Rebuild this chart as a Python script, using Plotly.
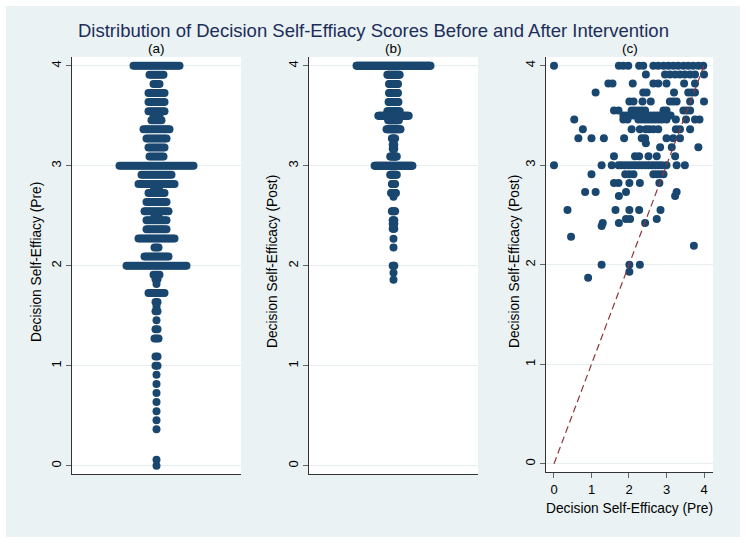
import plotly.graph_objects as go

W, H = 746, 545

# ---------------- data ----------------
# (a) dot plot of pre-intervention scores: row value and number of subjects
pre_levels = [4.0, 3.909, 3.818, 3.727, 3.636, 3.545, 3.5, 3.455, 3.364, 3.273, 3.182, 3.091,
              3.0, 2.909, 2.818, 2.75, 2.727, 2.636, 2.545, 2.5, 2.455, 2.364, 2.273, 2.182,
              2.091, 2.0, 1.909, 1.864, 1.818, 1.727, 1.636, 1.591, 1.545, 1.455, 1.364, 1.273,
              1.091, 1.0, 0.909, 0.818, 0.727, 0.636, 0.545, 0.455, 0.364, 0.06, 0.0]
pre_counts = [24, 8, 4, 9, 9, 9, 4, 6, 14, 11, 9, 8,
              38, 16, 19, 4, 9, 11, 13, 3, 11, 11, 19, 3,
              13, 31, 4, 2, 1, 9, 2, 1, 2, 1, 2, 3,
              2, 2, 1, 1, 1, 1, 1, 1, 1, 1, 1]

# (b) dot plot of post-intervention scores
post_levels = [4.0, 3.909, 3.818, 3.727, 3.636, 3.545, 3.5, 3.455, 3.364, 3.273, 3.21, 3.17,
               3.091, 3.0, 2.909, 2.818, 2.727, 2.69, 2.545, 2.455, 2.42, 2.37, 2.27, 2.182,
               2.0, 1.93, 1.86]
post_counts = [91, 16, 12, 12, 13, 16, 38, 14, 18, 5, 3, 3,
               9, 47, 9, 5, 7, 1, 5, 3, 3, 3, 1, 1,
               3, 1, 1]

# (c) scatter: pre (x) vs post (y)
pre_c = [0.0, 1.73, 1.85, 1.98, 2.27, 2.38, 2.65, 2.78, 2.92, 3.05, 3.18, 3.31, 3.45, 3.58, 3.71, 3.85, 3.98,
         2.45, 2.96, 3.09, 3.23, 3.36, 3.49, 3.63, 3.76, 4.0,
         1.45, 1.56, 2.10, 2.65, 2.78, 3.0, 3.47, 3.76,
         1.11, 2.38, 2.47, 3.20, 3.58, 3.67, 3.76,
         2.01, 2.12, 2.36, 2.58, 3.09, 3.18, 3.27, 3.63, 4.0,
         1.6, 1.72, 2.07, 2.16, 2.25, 2.34, 2.43, 2.92, 3.0, 3.45, 3.54, 3.63,
         1.85, 1.94, 2.03, 2.12, 2.21, 2.30, 2.39, 2.48, 2.57, 2.66, 2.75, 2.84, 2.93, 3.02, 3.11,
         0.54, 1.85, 1.96, 2.25, 2.34, 2.43, 2.52, 2.61, 2.70, 2.79, 2.88, 3.0, 3.25, 3.52, 3.76, 3.88,
         0.77, 2.07, 2.29, 2.45, 2.54, 2.65, 2.78, 3.25, 3.36, 3.63,
         0.65, 1.0, 1.33, 1.87, 2.34, 2.43, 3.0, 3.18, 3.36,
         2.45,
         2.83, 3.14, 3.85,
         1.6, 2.16, 2.27, 2.52, 2.74, 3.23,
         0.0, 1.27, 1.54, 1.72, 1.80, 1.89, 1.98, 2.07, 2.16, 2.25, 2.34, 2.43, 2.52, 2.61, 2.70, 2.79, 2.88, 3.0, 3.27, 3.49,
         1.0, 1.90, 2.01, 2.12, 2.65, 2.74, 2.83, 2.92,
         1.6, 1.72, 2.01, 2.29, 2.81,
         0.83, 1.11, 1.92, 3.27,
         1.73, 3.23,
         0.36, 1.64, 2.01, 2.27, 2.84,
         1.92, 2.03, 2.74,
         1.30, 1.73, 2.43,
         1.27,
         0.455,
         3.73,
         1.27, 2.01, 2.29,
         2.01,
         0.91]
post_c = [4.0, 4.0, 4.0, 4.0, 4.0, 4.0, 4.0, 4.0, 4.0, 4.0, 4.0, 4.0, 4.0, 4.0, 4.0, 4.0, 4.0,
          3.91, 3.91, 3.91, 3.91, 3.91, 3.91, 3.91, 3.91, 3.91,
          3.82, 3.82, 3.82, 3.82, 3.82, 3.82, 3.82, 3.82,
          3.73, 3.73, 3.73, 3.73, 3.73, 3.73, 3.73,
          3.64, 3.64, 3.64, 3.64, 3.64, 3.64, 3.64, 3.64, 3.64,
          3.55, 3.55, 3.55, 3.55, 3.55, 3.55, 3.55, 3.55, 3.55, 3.55, 3.55, 3.55,
          3.5, 3.5, 3.5, 3.5, 3.5, 3.5, 3.5, 3.5, 3.5, 3.5, 3.5, 3.5, 3.5, 3.5, 3.5,
          3.46, 3.46, 3.46, 3.46, 3.46, 3.46, 3.46, 3.46, 3.46, 3.46, 3.46, 3.46, 3.46, 3.46, 3.46, 3.46,
          3.36, 3.36, 3.36, 3.36, 3.36, 3.36, 3.36, 3.36, 3.36, 3.36,
          3.27, 3.27, 3.27, 3.27, 3.27, 3.27, 3.27, 3.27, 3.27,
          3.22,
          3.18, 3.18, 3.18,
          3.09, 3.09, 3.09, 3.09, 3.09, 3.09,
          3.0, 3.0, 3.0, 3.0, 3.0, 3.0, 3.0, 3.0, 3.0, 3.0, 3.0, 3.0, 3.0, 3.0, 3.0, 3.0, 3.0, 3.0, 3.0, 3.0,
          2.91, 2.91, 2.91, 2.91, 2.91, 2.91, 2.91, 2.91,
          2.82, 2.82, 2.82, 2.82, 2.82,
          2.73, 2.73, 2.73, 2.73,
          2.69, 2.69,
          2.55, 2.55, 2.55, 2.55, 2.55,
          2.46, 2.46, 2.46,
          2.42, 2.42, 2.42,
          2.39,
          2.28,
          2.19,
          2.0, 2.0, 2.0,
          1.93,
          1.87]

y_ticks = [0, 1, 2, 3, 4]
x_ticks_c = [0, 1, 2, 3, 4]
diag = [0, 4]

title_text = "Distribution of Decision Self-Effiacy Scores Before and After Intervention"
panel_titles = ["(a)", "(b)", "(c)"]
ytitle_a = "Decision Self-Effiacy (Pre)"
ytitle_bc = "Decision Self-Efficacy (Post)"
xtitle_c = "Decision Self-Efficacy (Pre)"

# ---------------- styles ----------------
NAVY = "#1A476F"
MAROON = "#90353B"
BG = "#EAF2F3"
GRID = "#E6EEF0"
FONT = "Liberation Sans, Arial, sans-serif"


def fx(p):
    return p / W


def fy(p):
    return 1 - p / H


def dot_rows(levels, counts):
    xs, ys = [], []
    for v, n in zip(levels, counts):
        for i in range(n):
            xs.append(i - (n - 1) / 2)
            ys.append(v)
    return xs, ys


xa, ya = dot_rows(pre_levels, pre_counts)
xb, yb = dot_rows(post_levels, post_counts)

# widest row spans ~74 px (centre to centre) in a 169 px wide panel
half_a = (max(pre_counts) - 1) / 2 * 169 / 74
half_b = (max(post_counts) - 1) / 2 * 169 / 74

marker = dict(color=NAVY, size=8, line=dict(width=0))

fig = go.Figure()
fig.add_trace(go.Scatter(x=xa, y=ya, mode="markers", marker=marker, xaxis="x", yaxis="y",
                         hoverinfo="skip", showlegend=False))
fig.add_trace(go.Scatter(x=xb, y=yb, mode="markers", marker=marker, xaxis="x2", yaxis="y2",
                         hoverinfo="skip", showlegend=False))
fig.add_trace(go.Scatter(x=pre_c, y=post_c, mode="markers", marker=dict(color=NAVY, size=8, line=dict(width=0)),
                         xaxis="x3", yaxis="y3", hoverinfo="skip", showlegend=False))
fig.add_trace(go.Scatter(x=diag, y=diag, mode="lines", line=dict(color=MAROON, width=1.2, dash="7px,4px"),
                         xaxis="x3", yaxis="y3", hoverinfo="skip", showlegend=False))

yrange = [-0.083, 4.087]
ydom = [fy(474), fy(57)]

yax = dict(range=yrange, domain=ydom, tickmode="array", tickvals=y_ticks,
           ticks="outside", ticklen=5, tickwidth=1, tickcolor="#666",
           tickangle=-90, tickfont=dict(family=FONT, size=13, color="#000"),
           showline=True, linecolor="#333", linewidth=1,
           showgrid=True, gridcolor=GRID, gridwidth=1, zeroline=False, fixedrange=True)

xplain = dict(showticklabels=False, ticks="", showgrid=False, zeroline=False,
              showline=True, linecolor="#333", linewidth=1, fixedrange=True)

fig.update_layout(
    width=W, height=H, autosize=False,
    margin=dict(l=0, r=0, t=0, b=0),
    paper_bgcolor=BG, plot_bgcolor="white",
    font=dict(family=FONT, color="#000"),
    xaxis=dict(xplain, domain=[fx(72), fx(241)], range=[-half_a, half_a], anchor="y"),
    yaxis=dict(yax, anchor="x"),
    xaxis2=dict(xplain, domain=[fx(309), fx(478)], range=[-half_b, half_b], anchor="y2"),
    yaxis2=dict(yax, anchor="x2"),
    xaxis3=dict(domain=[fx(546), fx(713)], range=[-0.213, 4.24], anchor="y3",
                tickmode="array", tickvals=x_ticks_c, ticks="outside", ticklen=5,
                tickcolor="#666", tickfont=dict(family=FONT, size=13, color="#000"),
                showline=True, linecolor="#333", linewidth=1, showgrid=False, zeroline=False,
                fixedrange=True),
    yaxis3=dict(yax, anchor="x3", domain=[fy(472), fy(57)]),
)

# white outer frame around the light graph region
frame = [(0, 0, W, 6), (0, 537, W, H), (0, 0, 6, H), (740, 0, W, H)]
for x0, y0, x1, y1 in frame:
    fig.add_shape(type="rect", xref="paper", yref="paper", x0=fx(x0), x1=fx(x1), y0=fy(y1), y1=fy(y0),
                  fillcolor="white", line=dict(width=0), layer="above")

ann = []
ann.append(dict(text=title_text, x=fx(373), y=fy(30), xref="paper", yref="paper", showarrow=False,
                xanchor="center", yanchor="middle", font=dict(family=FONT, size=18.5, color="#1C2D5A")))
for t, cx in zip(panel_titles, [156.5, 393.5, 629.5]):
    ann.append(dict(text=t, x=fx(cx), y=fy(49), xref="paper", yref="paper", showarrow=False,
                    xanchor="center", yanchor="middle", font=dict(family=FONT, size=13.5, color="#000")))
for t, cx in zip([ytitle_a, ytitle_bc, ytitle_bc], [36, 272, 514]):
    ann.append(dict(text=t, x=fx(cx), y=fy(262), xref="paper", yref="paper", showarrow=False,
                    textangle=-90, xanchor="center", yanchor="middle",
                    font=dict(family=FONT, size=13.75, color="#000")))
ann.append(dict(text=xtitle_c, x=fx(629.5), y=fy(508), xref="paper", yref="paper", showarrow=False,
                xanchor="center", yanchor="middle", font=dict(family=FONT, size=13.75, color="#000")))
fig.update_layout(annotations=ann)

fig.write_html("out.html", config={"displayModeBar": False, "staticPlot": True},
               post_script="document.body.style.margin='0px';document.body.style.padding='0px';")
